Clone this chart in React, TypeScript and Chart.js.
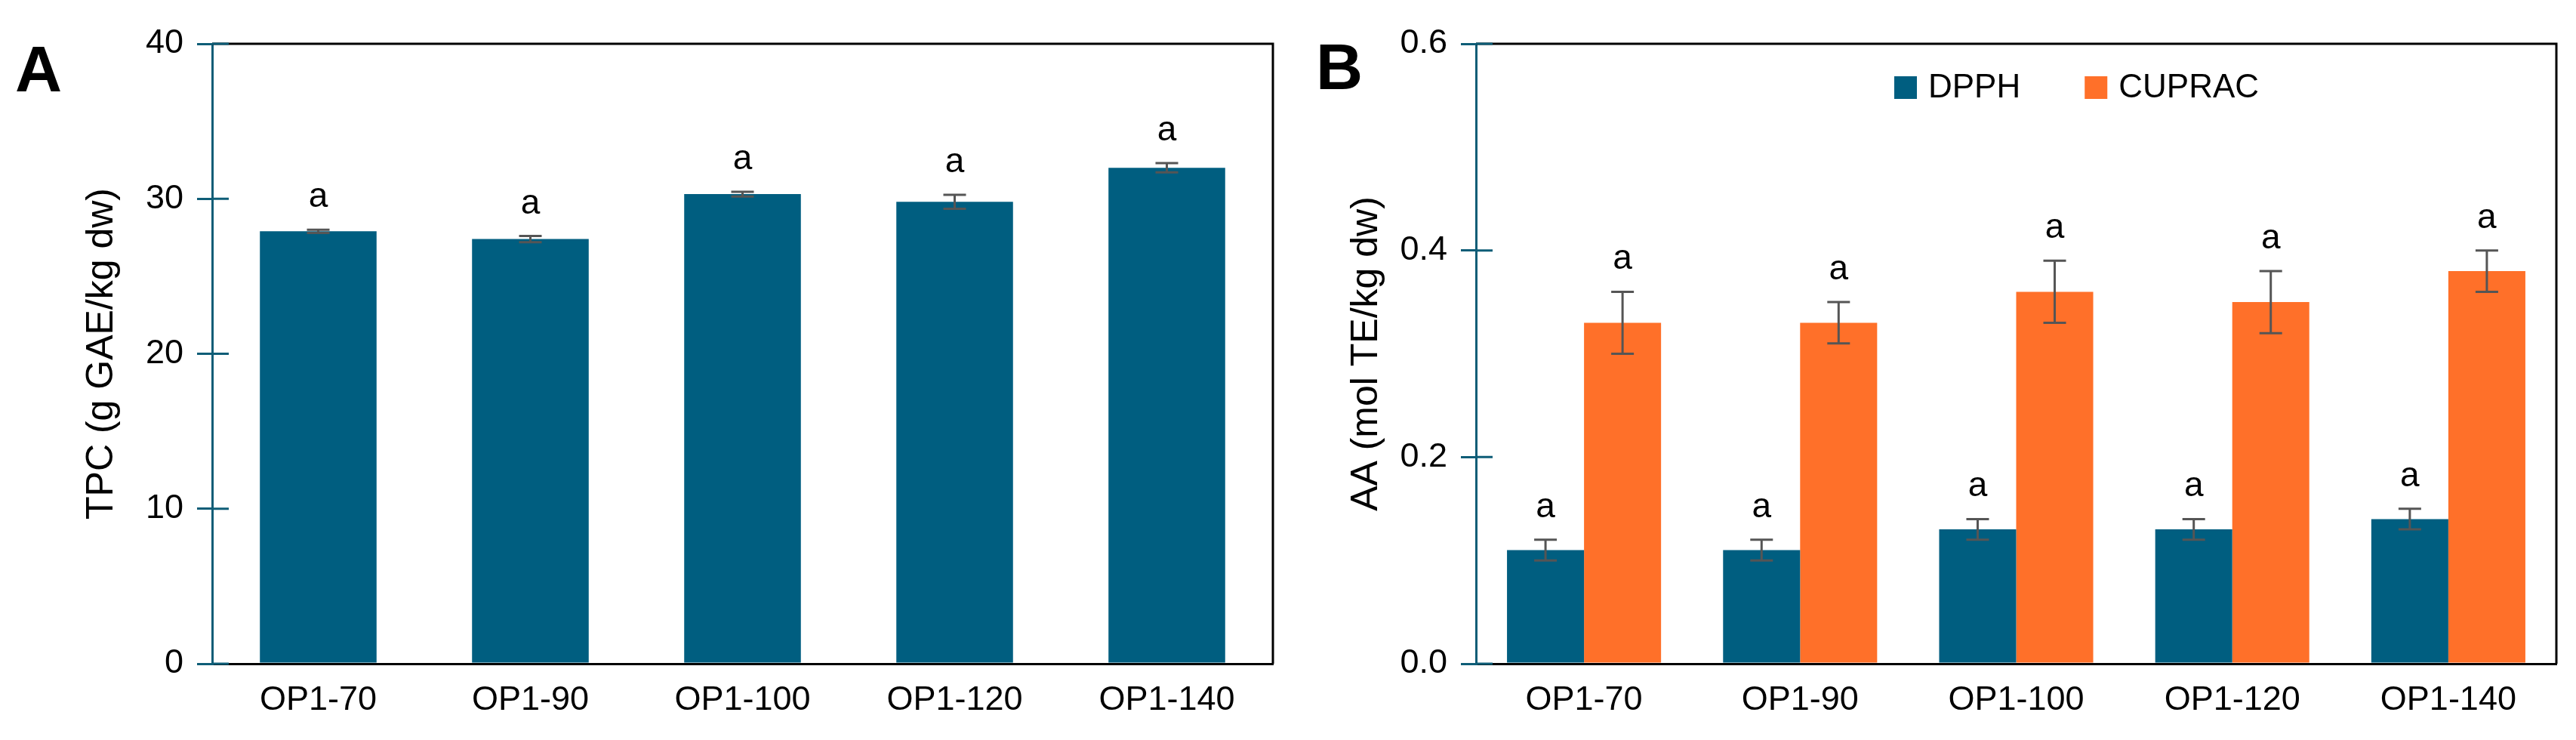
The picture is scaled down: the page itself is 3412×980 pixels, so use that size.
import React, { useEffect, useRef } from 'react';
import Chart from 'chart.js/auto';

// ---- data ----
const categories = ['OP1-70', 'OP1-90', 'OP1-100', 'OP1-120', 'OP1-140'];

const tpcValues = [27.9, 27.4, 30.3, 29.8, 32.0];
const tpcErrors = [0.1, 0.2, 0.15, 0.45, 0.3];
const tpcLetters = ['a', 'a', 'a', 'a', 'a'];
const tpcTicks = [0, 10, 20, 30, 40];

const dpphValues = [0.11, 0.11, 0.13, 0.13, 0.14];
const dpphErrors = [0.01, 0.01, 0.01, 0.01, 0.01];
const dpphLetters = ['a', 'a', 'a', 'a', 'a'];

const cupracValues = [0.33, 0.33, 0.36, 0.35, 0.38];
const cupracErrors = [0.03, 0.02, 0.03, 0.03, 0.02];
const cupracLetters = ['a', 'a', 'a', 'a', 'a'];
const aaTicks = [0, 0.2, 0.4, 0.6];

const TEAL = '#005E80';
const ORANGE = '#FF7029';
const AXIS = '#0E5D77';
const FONT = '"Liberation Sans", Arial, sans-serif';

Chart.defaults.font.family = FONT;
Chart.defaults.color = '#000';

// error bars + significance letters
const errorBarPlugin = {
  id: 'errorBars',
  afterDatasetsDraw(chart: any, _args: any, opts: any) {
    const { ctx } = chart;
    const y = chart.scales.y;
    chart.data.datasets.forEach((ds: any, di: number) => {
      const meta = chart.getDatasetMeta(di);
      const errs = opts.errors[di];
      const letters = opts.letters[di];
      meta.data.forEach((bar: any, i: number) => {
        const v = ds.data[i];
        const top = y.getPixelForValue(v + errs[i]);
        const bot = y.getPixelForValue(v - errs[i]);
        ctx.save();
        ctx.strokeStyle = '#555';
        ctx.lineWidth = 3;
        ctx.beginPath();
        ctx.moveTo(bar.x, top);
        ctx.lineTo(bar.x, bot);
        ctx.moveTo(bar.x - 15, top);
        ctx.lineTo(bar.x + 15, top);
        ctx.moveTo(bar.x - 15, bot);
        ctx.lineTo(bar.x + 15, bot);
        ctx.stroke();
        ctx.fillStyle = '#000';
        ctx.font = `46px ${FONT}`;
        ctx.textAlign = 'center';
        ctx.textBaseline = 'alphabetic';
        ctx.fillText(letters[i], bar.x, top - 30);
        ctx.restore();
      });
    });
  }
};

// black top/right frame, inward tick stubs, panel letter, inline legend
const framePlugin = {
  id: 'frame',
  afterDraw(chart: any, _args: any, opts: any) {
    const { ctx, chartArea } = chart;
    const { left, right, top, bottom } = chartArea;
    const y = chart.scales.y;
    ctx.save();
    ctx.strokeStyle = '#000';
    ctx.lineWidth = 3;
    ctx.beginPath();
    ctx.moveTo(left, top);
    ctx.lineTo(right, top);
    ctx.lineTo(right, bottom);
    ctx.stroke();

    ctx.strokeStyle = AXIS;
    ctx.beginPath();
    y.ticks.forEach((_t: any, i: number) => {
      const py = y.getPixelForTick(i);
      ctx.moveTo(left, py);
      ctx.lineTo(left + 22, py);
    });
    ctx.stroke();

    ctx.fillStyle = '#000';
    ctx.font = `bold 86px ${FONT}`;
    ctx.textAlign = 'left';
    ctx.textBaseline = 'alphabetic';
    ctx.fillText(opts.letter, opts.letterX, opts.letterY);

    if (opts.legend) {
      let x = left + opts.legendX;
      const cy = opts.legendY;
      ctx.font = `44px ${FONT}`;
      ctx.textBaseline = 'middle';
      chart.data.datasets.forEach((ds: any) => {
        ctx.fillStyle = ds.backgroundColor;
        ctx.fillRect(x, cy - 15, 30, 30);
        ctx.fillStyle = '#000';
        ctx.fillText(ds.label, x + 45, cy + 1);
        x += 45 + ctx.measureText(ds.label).width + 85;
      });
    }
    ctx.restore();
  }
};

function yScale(ticks: number[], title: string, titlePad: number, width: number, decimals: number) {
  return {
    min: ticks[0],
    max: ticks[ticks.length - 1],
    afterBuildTicks: (s: any) => {
      s.ticks = ticks.map((v) => ({ value: v }));
    },
    afterFit: (s: any) => {
      s.width = width;
    },
    grid: {
      drawOnChartArea: false,
      drawTicks: true,
      tickLength: 20,
      color: AXIS,
      lineWidth: 3
    },
    border: { display: true, color: AXIS, width: 3 },
    ticks: {
      padding: 18,
      color: '#000',
      font: { size: 45 },
      callback: (v: any) => Number(v).toFixed(decimals)
    },
    title: {
      display: true,
      text: title,
      color: '#000',
      font: { size: 50 },
      padding: { top: titlePad, bottom: 0 }
    }
  };
}

const xScale = {
  afterFit: (s: any) => {
    s.height = 101;
  },
  grid: { display: false },
  border: { display: true, color: '#000', width: 3 },
  ticks: {
    padding: 14,
    color: '#000',
    autoSkip: false,
    maxRotation: 0,
    font: { size: 45 }
  }
};

export default function App() {
  const canvasA = useRef<HTMLCanvasElement>(null);
  const canvasB = useRef<HTMLCanvasElement>(null);

  useEffect(() => {
    document.body.style.margin = '0';
    const charts: Chart[] = [];

    if (canvasA.current) {
      charts.push(
        new Chart(canvasA.current, {
          type: 'bar',
          data: {
            labels: categories,
            datasets: [
              {
                label: 'TPC',
                data: tpcValues,
                backgroundColor: TEAL,
                categoryPercentage: 1,
                barPercentage: 0.55
              }
            ]
          },
          options: {
            responsive: true,
            maintainAspectRatio: false,
            animation: false,
            layout: { padding: { left: 0, right: 24, top: 58, bottom: 0 } },
            scales: {
              x: xScale,
              y: yScale(tpcTicks, 'TPC (g GAE/kg dw)', 105, 281, 0)
            },
            plugins: {
              legend: { display: false },
              tooltip: { enabled: false },
              errorBars: { errors: [tpcErrors], letters: [tpcLetters] },
              frame: { letter: 'A', letterX: 20, letterY: 121 }
            }
          } as any,
          plugins: [errorBarPlugin, framePlugin]
        })
      );
    }

    if (canvasB.current) {
      charts.push(
        new Chart(canvasB.current, {
          type: 'bar',
          data: {
            labels: categories,
            datasets: [
              {
                label: 'DPPH',
                data: dpphValues,
                backgroundColor: TEAL,
                categoryPercentage: 0.713,
                barPercentage: 1
              },
              {
                label: 'CUPRAC',
                data: cupracValues,
                backgroundColor: ORANGE,
                categoryPercentage: 0.713,
                barPercentage: 1
              }
            ]
          },
          options: {
            responsive: true,
            maintainAspectRatio: false,
            animation: false,
            layout: { padding: { left: 0, right: 26, top: 58, bottom: 0 } },
            scales: {
              x: xScale,
              y: yScale(aaTicks, 'AA (mol TE/kg dw)', 70, 245, 1)
            },
            plugins: {
              legend: { display: false },
              tooltip: { enabled: false },
              errorBars: {
                errors: [dpphErrors, cupracErrors],
                letters: [dpphLetters, cupracLetters]
              },
              frame: { letter: 'B', letterX: 33, letterY: 118, legend: true, legendX: 554, legendY: 116 }
            }
          } as any,
          plugins: [errorBarPlugin, framePlugin]
        })
      );
    }

    return () => charts.forEach((c) => c.destroy());
  }, []);

  return (
    <div style={{ position: 'relative', width: 3412, height: 980, background: '#fff' }}>
      <div style={{ position: 'absolute', left: 0, top: 0, width: 1710, height: 980 }}>
        <canvas ref={canvasA}></canvas>
      </div>
      <div style={{ position: 'absolute', left: 1710, top: 0, width: 1702, height: 980 }}>
        <canvas ref={canvasB}></canvas>
      </div>
    </div>
  );
}
